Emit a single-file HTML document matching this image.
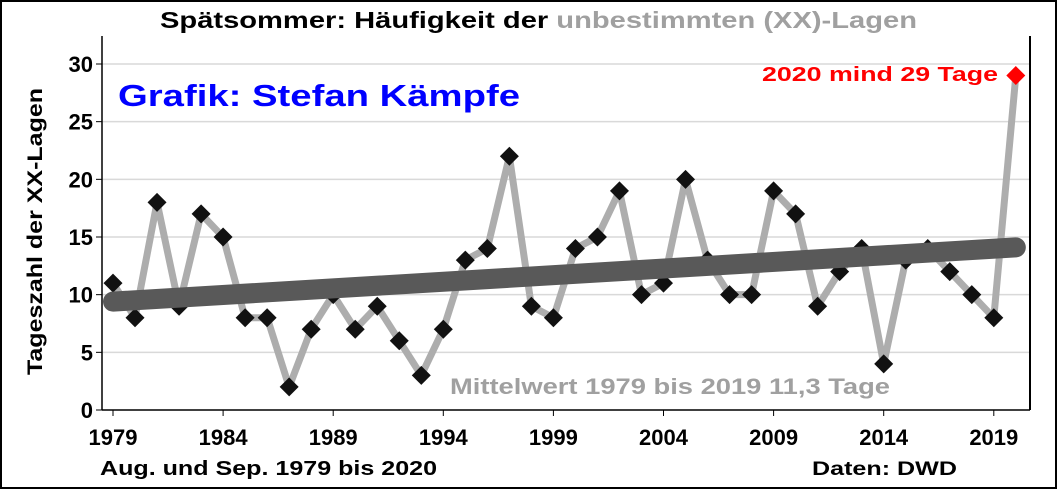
<!DOCTYPE html>
<html><head><meta charset="utf-8"><style>
body{margin:0;background:#fff}
svg{display:block;font-family:"Liberation Sans",Arial,sans-serif}
</style></head><body>
<svg id="c" width="1057" height="489">
<rect x="1" y="1" width="1055" height="487" fill="#fff" stroke="#000" stroke-width="2"/>
<g id="grid"></g>
<line x1="102" y1="36" x2="102" y2="410" stroke="#000" stroke-width="1.5"/>
<line x1="102" y1="410" x2="1030" y2="410" stroke="#000" stroke-width="1.5"/>
<line x1="1030" y1="36" x2="1030" y2="410" stroke="#000" stroke-width="2"/>
<g id="ticks"></g>
<g id="series"></g>
<text x="160" y="28" font-size="23" font-weight="bold" textLength="757" lengthAdjust="spacingAndGlyphs">Spätsommer: Häufigkeit der <tspan fill="#a0a0a0">unbestimmten (XX)-Lagen</tspan></text>
<text x="118" y="106" font-size="31" font-weight="bold" fill="#0000ff" textLength="402" lengthAdjust="spacingAndGlyphs">Grafik: Stefan Kämpfe</text>
<text x="762" y="81" font-size="20" font-weight="bold" fill="#ff0000" textLength="236" lengthAdjust="spacingAndGlyphs">2020 mind 29 Tage</text>
<text x="450" y="394" font-size="22" font-weight="bold" fill="#a0a0a0" textLength="440" lengthAdjust="spacingAndGlyphs">Mittelwert 1979 bis 2019 11,3 Tage</text>
<text x="0" y="0" font-size="21" font-weight="bold" textLength="287" lengthAdjust="spacingAndGlyphs" transform="translate(42 375) rotate(-90)">Tageszahl der XX-Lagen</text>
<text x="100" y="475" font-size="20" font-weight="bold" textLength="337" lengthAdjust="spacingAndGlyphs">Aug. und Sep. 1979 bis 2020</text>
<text x="812" y="475" font-size="19" font-weight="bold" textLength="145" lengthAdjust="spacingAndGlyphs">Daten: DWD</text>
</svg>
<script>
const years=[1979,1980,1981,1982,1983,1984,1985,1986,1987,1988,1989,1990,1991,1992,1993,1994,1995,1996,1997,1998,1999,2000,2001,2002,2003,2004,2005,2006,2007,2008,2009,2010,2011,2012,2013,2014,2015,2016,2017,2018,2019,2020];
const values=[11,8,18,9,17,15,8,8,2,7,10,7,9,6,3,7,13,14,22,9,8,14,15,19,10,11,20,13,10,10,19,17,9,12,14,4,13,14,12,10,8,29];
const trendStart=9.4, trendEnd=14.1;
const yTicks=[0,5,10,15,20,25,30];
const xTicks=[1979,1984,1989,1994,1999,2004,2009,2014,2019];
const NS='http://www.w3.org/2000/svg';
const xs=y=>113+(y-1979)*22.02;
const ys=v=>410-v*(346/30);
function mk(t,a,p){const e=document.createElementNS(NS,t);for(const k in a)e.setAttribute(k,a[k]);p.appendChild(e);return e;}
const grid=document.getElementById('grid'),ticks=document.getElementById('ticks'),ser=document.getElementById('series');
yTicks.forEach(v=>{
 if(v>0){const g=mk('line',{x1:102,x2:1030,y1:ys(v),y2:ys(v),stroke:'#d9d9d9','stroke-width':1.5},grid);
 
 }
 const t=mk('text',{x:93,y:ys(v)+8,'text-anchor':'end','font-size':22,'font-weight':'bold'},ticks);t.textContent=v;
 
 
 mk('line',{x1:96,x2:102,y1:ys(v),y2:ys(v),stroke:'#000'},ticks);
});
xTicks.forEach(y=>{
 const t=mk('text',{x:xs(y),y:445,'text-anchor':'middle','font-size':22,'font-weight':'bold'},ticks);t.textContent=y;
 
 
 mk('line',{x1:xs(y),x2:xs(y),y1:410,y2:416,stroke:'#000'},ticks);
});
const line=mk('polyline',{points:years.map((y,i)=>xs(y)+','+ys(values[i])).join(' '),fill:'none',stroke:'#adadad','stroke-width':7,'stroke-linejoin':'round'},ser);


years.forEach((y,i)=>{
 const last=i===years.length-1,cx=xs(y),cy=ys(values[i]),s=9.5;
 const d=mk('polygon',{points:`${cx},${cy-s} ${cx+s},${cy} ${cx},${cy+s} ${cx-s},${cy}`,fill:last?'#ff0000':'#111'},ser);
 
 
});
const tr=mk('line',{x1:xs(years[0]),y1:ys(trendStart),x2:xs(years[years.length-1]),y2:ys(trendEnd),stroke:'#595959','stroke-width':20,'stroke-linecap':'round'},ser);


</script>
</body></html>
